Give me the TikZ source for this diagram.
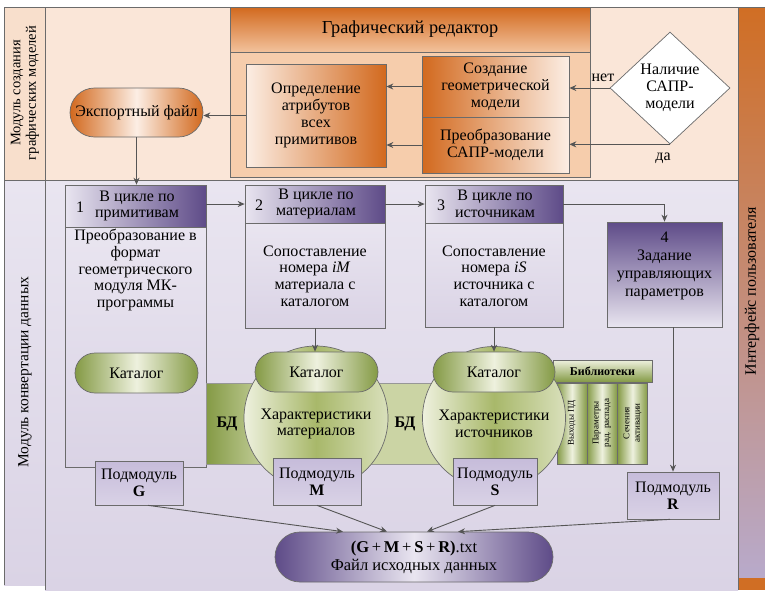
\documentclass[tikz,border=0pt]{standalone}
\usepackage{fontspec}
\setmainfont{Liberation Serif}
\usetikzlibrary{shapes.misc,shapes.geometric,arrows.meta,calc}
\definecolor{frame}{HTML}{6B6B6B}
\definecolor{arrc}{HTML}{555555}
\definecolor{peach}{HTML}{FAE6D8}
\definecolor{peachL}{HTML}{F8DFCC}
\definecolor{orD}{HTML}{D2691E}
\definecolor{orM}{HTML}{F2C29C}
\definecolor{orB}{HTML}{F6CDAC}
\definecolor{orL}{HTML}{FCEEE4}
\definecolor{lav}{HTML}{DAD3E5}
\definecolor{lavL}{HTML}{E9E5F0}
\definecolor{purD}{HTML}{5E4B88}
\definecolor{subT}{HTML}{C6BCDA}
\definecolor{subB}{HTML}{D9D2E6}
\definecolor{grD}{HTML}{849A45}
\definecolor{grM}{HTML}{A8B86A}
\definecolor{grL}{HTML}{EEF1DE}
\definecolor{rcTop}{HTML}{D06E24}
\definecolor{rcBot}{HTML}{B8AACB}
\begin{document}
\begin{tikzpicture}[x=1pt,y=-1pt,
  font=\fontsize{16}{16.8}\selectfont,
  every node/.style={inner sep=1pt, align=center, text=black},
  arr/.style={draw=arrc, line width=0.9pt, -{Stealth[length=7pt,width=6pt]}},
  bx/.style={draw=frame, line width=0.7pt, inner sep=0pt},
  cat/.style={bx, rounded rectangle, minimum height=40pt, left color=grD, right color=grD, middle color=grL},
  circ/.style={bx, circle, left color=grL, right color=grL!70!grM, middle color=grM},
  sub/.style={bx, rectangle, top color=subT, bottom color=subB},
  hdr/.style={bx, rectangle, left color=lavL, right color=purD},
  body/.style={bx, rectangle, top color=lavL, bottom color=lav},
  col/.style={bx, rectangle, minimum width=30pt, minimum height=81pt, left color=grD, right color=grD, middle color=grL},
  rot/.style={rotate=90},
  small/.style={rotate=90, font=\fontsize{9}{10.5}\selectfont},
  bdl/.style={font=\bfseries\fontsize{16}{17}\selectfont}
]
\useasboundingbox (0,0) rectangle (765,590);
% ---------- backgrounds ----------
\fill[white] (0,0) rectangle (765,590);
\fill[peach] (45,7) rectangle (738,180);
\fill[peachL] (4,7) rectangle (45,180);
\shade[top color=lavL, bottom color=lav] (45,180) rectangle (738,590);
\shade[top color=lavL, bottom color=lav] (4,180) rectangle (45,585);
\shade[top color=rcTop, bottom color=rcBot] (738,7) rectangle (765,578);
\fill[rcTop] (738,578) rectangle (765,590);
\draw[frame, line width=1pt] (4,7) -- (765,7);
\draw[frame, line width=1pt] (4,7) -- (4,585);
\draw[frame, line width=1pt] (45,7) -- (45,590);
\draw[frame, line width=1pt] (4,180) -- (738,180);
\draw[frame, line width=1pt] (738,7) -- (738,590);
% ---------- side labels ----------
\node[rot, font=\fontsize{14.5}{15.5}\selectfont] (lab1) at (25,93) {Модуль создания\\графических моделей};
\node[rot, font=\fontsize{15.5}{17}\selectfont] (lab2) at (25,372) {Модуль конвертации данных};
\node[rot, font=\fontsize{16}{17}\selectfont] (lab3) at (752,291) {Интерфейс пользователя};
% ---------- graphic editor ----------
\node[bx, minimum width=360pt, minimum height=45pt, top color=orD, bottom color=orM,
      font=\fontsize{18.3}{20}\selectfont] (ged) at (410,29.5) {Графический редактор};
\node[bx, minimum width=360pt, minimum height=125pt, fill=orB] (gbody) at (410,114.5) {};
\node[bx, minimum width=140pt, minimum height=103pt, left color=orL, right color=orD] (attr) at (316,115.5)
  {Определение\\атрибутов\\всех\\примитивов};
\node[bx, minimum width=147pt, minimum height=61pt, left color=orD, right color=orL] (cr) at (495.5,86.5)
  {Создание\\геометрической\\модели};
\node[bx, minimum width=147pt, minimum height=56pt, left color=orD, right color=orL] (pr) at (495.5,145)
  {Преобразование\\САПР-модели};
\node[bx, diamond, fill=white, minimum width=120pt, minimum height=112pt, aspect=1.07] (dia) at (670,88)
  {Наличие\\САПР-\\модели};
\node (net) at (603,78) {нет};
\node (da) at (663,158) {да};
\node[bx, rounded rectangle, minimum width=133pt, minimum height=49pt, left color=orD, right color=orD, middle color=orL] (exp) at (136.5,112.5)
  {Экспортный файл};
% ---------- conversion boxes ----------
\node[body, minimum width=141pt, minimum height=240pt] (b1b) at (135.5,347) {};
\node[hdr, minimum width=141pt, minimum height=42pt] (b1h) at (135.5,206) {};
\node (n1) at (80,207) {1};
\node (t1h) at (137,206) {В цикле по\\примитивам};
\node (t1b) at (135.5,270) {Преобразование в\\формат\\геометрического\\модуля МК-\\программы};

\node[body, minimum width=140pt, minimum height=105pt] (b2b) at (315,275.5) {};
\node[hdr, minimum width=140pt, minimum height=38pt] (b2h) at (315,204) {};
\node (n2) at (259,205) {2};
\node (t2h) at (316,204) {В цикле по\\материалам};
\node (t2b) at (315,276) {Сопоставление\\номера \textit{iM}\\материала с\\каталогом};

\node[body, minimum width=138pt, minimum height=104pt] (b3b) at (494,275) {};
\node[hdr, minimum width=138pt, minimum height=38pt] (b3h) at (494,204) {};
\node (n3) at (441,205) {3};
\node (t3h) at (495,204) {В цикле по\\источникам};
\node (t3b) at (494,276) {Сопоставление\\номера \textit{iS}\\источника с\\каталогом};

\node[bx, minimum width=115pt, minimum height=105pt, top color=purD, bottom color=lavL] (b4) at (664.5,274.5) {};
\node[font=\fontsize{16}{18}\selectfont] (t4) at (664.5,266) {4\\Задание\\управляющих\\параметров};
% ---------- database band ----------
\shade[left color=grD, right color=grL!50!grM, draw=frame!70, line width=0.4pt] (206,383) rectangle (270,464);
\shade[left color=grL!50!grM, middle color=grD, right color=grL!50!grM, draw=frame!70, line width=0.4pt] (360,383) rectangle (450,464);
\node[col] (c1) at (572,423.5) {};
\node[col] (c2) at (602,423.5) {};
\node[col] (c3) at (632.5,423.5) {};
\node[bx, minimum width=99pt, minimum height=22pt, top color=grL, bottom color=grD,
      font=\bfseries\fontsize{12}{13}\selectfont] (lib) at (602.5,371) {Библиотеки};
\node[circ, minimum size=144pt] (cM) at (316,418) {};
\node[circ, minimum size=143pt] (cS) at (494,418) {};
\node (tM) at (316,424) {Характеристики\\материалов};
\node (tS) at (494,424) {Характеристики\\источников};
\node[bdl] (bd1) at (227,424) {БД};
\node[bdl] (bd2) at (405,424) {БД};
\node[small] (tc1) at (572,423) {Выходы ПД};
\node[small] (tc2) at (602,423) {Параметры\\рад. распада};
\node[small] (tc3) at (632.5,423) {Сечения\\активации};
\node[cat, minimum width=123pt] (cat1) at (136.5,373) {Каталог};
\node[cat, minimum width=123pt] (cat2) at (316.5,372) {Каталог};
\node[cat, minimum width=122pt] (cat3) at (494,372) {Каталог};
% ---------- submodules ----------
\node[sub, minimum width=88pt, minimum height=44pt] (G) at (139,483) {Подмодуль\\\textbf{G}};
\node[sub, minimum width=88pt, minimum height=47pt] (M) at (317,481.5) {Подмодуль\\\textbf{M}};
\node[sub, minimum width=84pt, minimum height=47pt] (S) at (495,481.5) {Подмодуль\\\textbf{S}};
\node[sub, minimum width=92pt, minimum height=47pt] (R) at (673,495.5) {Подмодуль\\\textbf{R}};
\node[bx, rounded rectangle, minimum width=278pt, minimum height=50pt, left color=purD, right color=purD, middle color=lavL,
      font=\fontsize{16.5}{18}\selectfont] (fin) at (414,557)
  {{\bfseries(G}\,+\,{\bfseries M}\,+\,{\bfseries S}\,+\,{\bfseries R)}.txt\\Файл исходных данных};
% ---------- connectors ----------
\draw[arr] (cr.west) -- (cr.west -| attr.east);
\draw[arr] (pr.west) -- (pr.west -| attr.east);
\draw[arr] (dia.west) -- (dia.west -| cr.east);
\draw[arr] (dia.south) -- (dia.south -| pr.east);
\draw[arr] (attr.west) -- (attr.west -| exp.east);
\draw[arr] (exp.south) -- (exp.south |- b1h.north);
\draw[arr] (b2h.west -| b1h.east) -- (b2h.west);
\draw[arr] (b2h.east) -- (b3h.west);
\draw[arr] (b3h.east) -| (b4.north);
\draw[arr] (b2b.south) -- (b2b.south |- cat2.north);
\draw[arr] (b3b.south) -- (b3b.south |- cat3.north);
\draw[arr] (b4.south -| R.north) -- (R.north);
\draw[arr] ($(G.south)+(9,0)$) -- ($(fin.north)+(-71,0)$);
\draw[arr] (M.south) -- ($(fin.north)+(-27,0)$);
\draw[arr] (S.south) -- ($(fin.north)+(13,0)$);
\draw[arr] ($(R.south)+(-3,0)$) -- ($(fin.north)+(44,0)$);
\end{tikzpicture}
\end{document}
